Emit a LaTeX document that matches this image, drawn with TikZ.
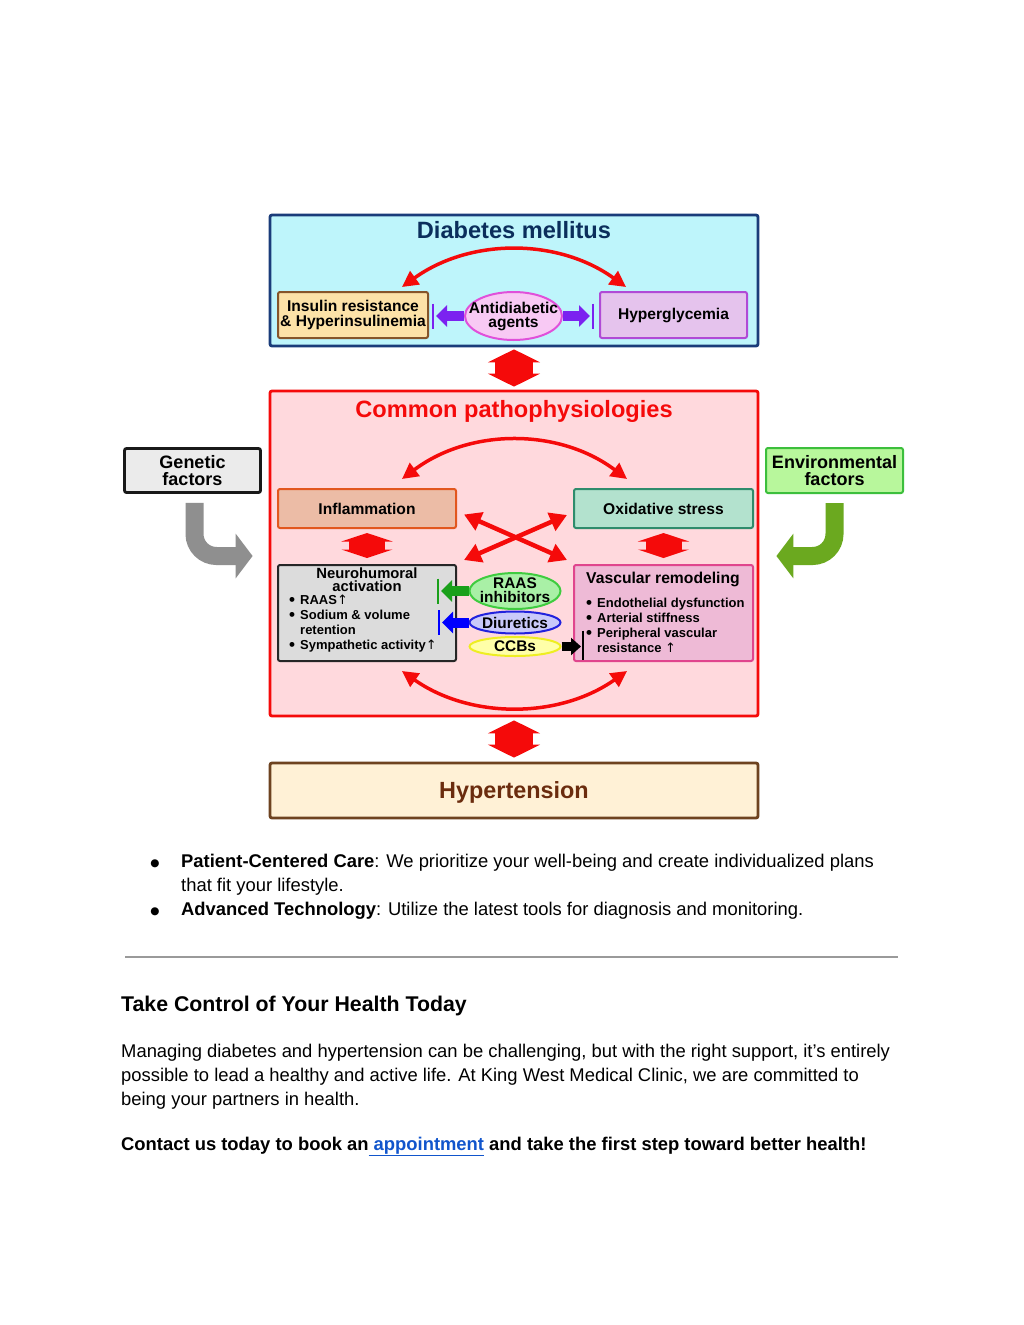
\documentclass[tikz,border=0pt]{standalone}
\usepackage{fontspec}
\setmainfont{Liberation Sans}
\newfontfamily\djv{DejaVu Sans}
\usetikzlibrary{arrows.meta,shapes.geometric,calc}
\definecolor{dmfill}{HTML}{BEF5FB}
\definecolor{dmbord}{HTML}{1A3C7A}
\definecolor{dmtext}{HTML}{0B2E5C}
\definecolor{insfill}{HTML}{FCE2A8}
\definecolor{insbord}{HTML}{85552A}
\definecolor{antifill}{HTML}{F8C9F4}
\definecolor{antibord}{HTML}{E050DA}
\definecolor{purp}{HTML}{7B22F0}
\definecolor{hypfill}{HTML}{E5C3ED}
\definecolor{hypbord}{HTML}{B04AD6}
\definecolor{comfill}{HTML}{FFD9DD}
\definecolor{redc}{HTML}{F50A0A}
\definecolor{inffill}{HTML}{ECBCA6}
\definecolor{infbord}{HTML}{E2571E}
\definecolor{oxifill}{HTML}{B3E2CE}
\definecolor{oxibord}{HTML}{2F8C6C}
\definecolor{neufill}{HTML}{DCDCDC}
\definecolor{raasfill}{HTML}{A9F0A6}
\definecolor{raasbord}{HTML}{3FCC3F}
\definecolor{greenarr}{HTML}{1AA01A}
\definecolor{diufill}{HTML}{C9C9FA}
\definecolor{diubord}{HTML}{2222DD}
\definecolor{bluearr}{HTML}{0000FF}
\definecolor{ccbfill}{HTML}{FFFFA8}
\definecolor{ccbbord}{HTML}{EEEE22}
\definecolor{vasfill}{HTML}{EEBAD6}
\definecolor{vasbord}{HTML}{E0458D}
\definecolor{htfill}{HTML}{FFF1D6}
\definecolor{htbord}{HTML}{6E4320}
\definecolor{httext}{HTML}{6B2C0E}
\definecolor{genfill}{HTML}{EBEBEB}
\definecolor{greyarr}{HTML}{8F8F8F}
\definecolor{envfill}{HTML}{B8F79C}
\definecolor{envbord}{HTML}{3CBF3C}
\definecolor{envarr}{HTML}{6BA91F}
\definecolor{rulec}{HTML}{9A9A9A}
\definecolor{linkc}{HTML}{1155CC}
\newcommand\fsz[2]{\fontsize{#1}{#2}\selectfont}
\newcommand\uparr{{\djv\mdseries ↑}}
\begin{document}
\begin{tikzpicture}[x=1pt,y=-1pt,
  box/.style={draw, rounded corners=2pt, line width=2pt, inner sep=0pt, align=center},
  oval/.style={draw, ellipse, line width=2pt, inner sep=0pt},
  bigbox/.style={box, line width=2.8pt, minimum width=488pt},
  lbl/.style={font=\bfseries\fsz{15.6}{14.5}},
  elab/.style={inner sep=0pt, align=center, font=\bfseries\fsz{15.4}{14}},
  side/.style={font=\bfseries\fsz{18}{17}},
  ttl/.style={anchor=base, inner sep=0pt, font=\bfseries\fsz{23.6}{26}},
  sub/.style={anchor=base, inner sep=0pt, font=\bfseries\fsz{17}{15}},
  subw/.style={anchor=base west, inner sep=0pt, font=\bfseries\fsz{13}{15}},
  body/.style={anchor=base west, inner sep=0pt, font=\fsz{18.4}{24}},
  blt/.style={anchor=base, inner sep=0pt, font=\djv\fsz{10.5}{24}},
  redcurve/.style={draw=redc, line width=3.5pt, {Triangle[length=16pt,width=16pt]}-{Triangle[length=16pt,width=16pt]}},
  redx/.style={draw=redc, line width=4.5pt, {Triangle[length=17pt,width=19pt]}-{Triangle[length=17pt,width=19pt]}},
  bigdbl/.style={draw=redc, line width=38pt, {Triangle[length=13pt,width=52pt]}-{Triangle[length=13pt,width=52pt]}},
  smalldbl/.style={draw=redc, line width=36pt, {Triangle[length=8.5pt,width=51pt]}-{Triangle[length=8.5pt,width=51pt]}},
  inh/.style={line width=10pt, -{Triangle[length=11pt,width=21pt]}},
  bar/.style={line width=2.5pt},
  bent/.style={line width=18pt, rounded corners=22pt, -{Triangle[length=17pt,width=44pt]}}
]
\useasboundingbox (0,0) rectangle (1024,1325);
\fill[white] (0,0) rectangle (1024,1325);

% ---------- Diabetes mellitus ----------
\node[bigbox, fill=dmfill, draw=dmbord, minimum height=131pt] (dm) at (514,280.5) {};
\node[ttl, text=dmtext] (dmt) at (514,238) {Diabetes mellitus};
\node[box, fill=insfill, draw=insbord, minimum width=150pt, minimum height=46pt, lbl] (ins) at (353,315) {Insulin resistance\\\& Hyperinsulinemia};
\node[oval, fill=antifill, draw=antibord, minimum width=97pt, minimum height=48pt] (anti) at (513.5,316) {};
\node[elab, font=\bfseries\fsz{15.6}{14}] (antit) at (anti) {Antidiabetic\\agents};
\node[box, fill=hypfill, draw=hypbord, minimum width=147pt, minimum height=46pt, lbl] (hyp) at (673.5,315) {Hyperglycemia};
\draw[redcurve] ($(ins.north east)+(-27,-4)$) .. controls +(68,-49) and +(-68,-49) .. ($(hyp.north west)+(27,-4)$);
\draw[inh, draw=purp] (anti.west) -- ($(anti.west)+(-28,0)$);
\draw[bar, draw=purp] ($(anti.west)+(-31,-12.5)$) -- ($(anti.west)+(-31,12.5)$);
\draw[inh, draw=purp] (anti.east) -- ($(anti.east)+(27,0)$);
\draw[bar, draw=purp] ($(anti.east)+(30,-12.5)$) -- ($(anti.east)+(30,12.5)$);

% ---------- Common pathophysiologies ----------
\node[bigbox, fill=comfill, draw=redc, minimum height=325pt] (comm) at (514,553.5) {};
\node[ttl, text=redc] (commt) at (514,417) {Common pathophysiologies};
\draw[bigdbl] ($(dm.south)+(0,2)$) -- ($(comm.north)+(0,-3)$);

\node[box, fill=inffill, draw=infbord, minimum width=178pt, minimum height=39pt, lbl] (infl) at (367,508.5) {Inflammation};
\node[box, fill=oxifill, draw=oxibord, minimum width=179pt, minimum height=39pt, lbl] (oxi) at (663.5,508.5) {Oxidative stress};
\node[box, fill=neufill, draw=black!85, minimum width=178pt, minimum height=96pt] (neuro) at (367,613) {};
\node[box, fill=vasfill, draw=vasbord, minimum width=179pt, minimum height=96pt] (vasc) at (663.5,613) {};

\draw[redcurve] ($(infl.north east)+(-55,-9)$) .. controls +(68,-51) and +(-68,-51) .. ($(oxi.north west)+(54,-9)$);
\draw[redcurve] ($(neuro.south east)+(-55,9)$) .. controls +(68,48) and +(-68,48) .. ($(vasc.south west)+(54,9)$);
\draw[redx] ($(infl.east)+(7,6)$) -- ($(vasc.north west)+(-6,-4)$);
\draw[redx] ($(oxi.west)+(-6,6.5)$) -- ($(neuro.north east)+(7,-4)$);
\draw[smalldbl] ($(infl.south)+(0,4)$) -- ($(neuro.north)+(0,-6)$);
\draw[smalldbl] ($(oxi.south)+(0,4)$) -- ($(vasc.north)+(0,-6)$);

% neurohumoral text
\node[anchor=base, inner sep=0pt, font=\bfseries\fsz{14.8}{12}] (neut1) at (367,578) {Neurohumoral};
\node[anchor=base, inner sep=0pt, font=\bfseries\fsz{14.8}{12}] (neut2) at (367,591.5) {activation};
\node[sub] (nb1) at (292,605) {•};
\node[subw] (nl1) at (300,604) {RAAS\uparr};
\node[sub] (nb2) at (292,620) {•};
\node[subw] (nl2) at (300,619) {Sodium \& volume};
\node[subw] (nl3) at (300,634) {retention};
\node[sub] (nb3) at (292,650) {•};
\node[subw] (nl4) at (300,649) {Sympathetic activity\uparr};

% vascular text
\node[anchor=base, inner sep=0pt, font=\bfseries\fsz{15.7}{15}] (vast) at (663,583) {Vascular remodeling};
\node[sub] (vb1) at (589,608) {•};
\node[subw] (vl1) at (597,607) {Endothelial dysfunction};
\node[sub] (vb2) at (589,623) {•};
\node[subw] (vl2) at (597,622) {Arterial stiffness};
\node[sub] (vb3) at (589,638) {•};
\node[subw] (vl3) at (597,637) {Peripheral vascular};
\node[subw] (vl4) at (597,652) {resistance \uparr};

% drug ellipses
\node[oval, fill=raasfill, draw=raasbord, minimum width=91pt, minimum height=36pt] (raas) at (515,591) {};
\node[elab] (raast) at (515,590) {RAAS\\inhibitors};
\node[oval, fill=diufill, draw=diubord, minimum width=91pt, minimum height=22pt] (diu) at (515,622.5) {};
\node[elab] (diut) at (diu) {Diuretics};
\node[oval, fill=ccbfill, draw=ccbbord, minimum width=91pt, minimum height=19pt] (ccb) at (515,646.5) {};
\node[elab] (ccbt) at (ccb) {CCBs};
\draw[inh, draw=greenarr] (raas.west) -- ($(raas.west)+(-27.5,0)$);
\draw[bar, draw=greenarr] ($(raas.west)+(-30.5,-12.5)$) -- ($(raas.west)+(-30.5,12.5)$);
\draw[inh, draw=bluearr] (diu.west) -- ($(diu.west)+(-26.5,0)$);
\draw[bar, draw=bluearr] ($(diu.west)+(-29.5,-12.5)$) -- ($(diu.west)+(-29.5,12.5)$);
\draw[line width=9pt, -{Triangle[length=10pt,width=17pt]}, draw=black] (ccb.east) -- ($(ccb.east)+(19.5,0)$);
\draw[bar, draw=black] ($(ccb.east)+(21.5,-16)$) -- ($(ccb.east)+(21.5,13)$);

% ---------- Hypertension ----------
\node[bigbox, fill=htfill, draw=htbord, minimum height=55pt, text=httext, font=\bfseries\fsz{23.4}{26}, text depth=0pt] (ht) at (514,790.5) {Hypertension};
\draw[bigdbl] ($(comm.south)+(0,3)$) -- ($(ht.north)+(0,-4)$);

% ---------- side factors ----------
\node[box, fill=genfill, draw=black!90, line width=2.8pt, minimum width=136pt, minimum height=44pt, side] (gen) at (192.5,470.5) {Genetic\\factors};
\node[box, fill=envfill, draw=envbord, minimum width=137pt, minimum height=45pt, side] (env) at (834.5,470.5) {Environmental\\factors};
\draw[bent, draw=greyarr] ($(gen.south)+(2,9)$) |- ($(comm.west)+(-16,2.5)$);
\draw[bent, draw=envarr] ($(env.south)+(0,9)$) |- ($(comm.east)+(17,2.5)$);

% ---------- text below ----------
\node[blt] (b1) at (155,866) {●};
\node[body] (t1) at (181,867) {\textbf{Patient-Centered Care}: We prioritize your well-being and create individualized plans};
\node[body] (t2) at (181,891) {that fit your lifestyle.};
\node[blt] (b2) at (155,914) {●};
\node[body] (t3) at (181,915) {\textbf{Advanced Technology}: Utilize the latest tools for diagnosis and monitoring.};
\coordinate (ruleL) at (125,957);
\coordinate (ruleR) at (898,957);
\draw[rulec, line width=1.3pt] (ruleL) -- (ruleR);
\node[body, font=\bfseries\fsz{21.3}{26}] (h1) at (121,1011) {Take Control of Your Health Today};
\node[body] (p1) at (121,1057) {Managing diabetes and hypertension can be challenging, but with the right support, it’s entirely};
\node[body] (p2) at (121,1081) {possible to lead a healthy and active life. At King West Medical Clinic, we are committed to};
\node[body] (p3) at (121,1105) {being your partners in health.};
\node[body, font=\bfseries\fsz{18.4}{24}] (c1) at (121,1150) {Contact us today to book an\textcolor{linkc}{\underline{\ appointment}} and take the first step toward better health!};
\end{tikzpicture}
\end{document}
